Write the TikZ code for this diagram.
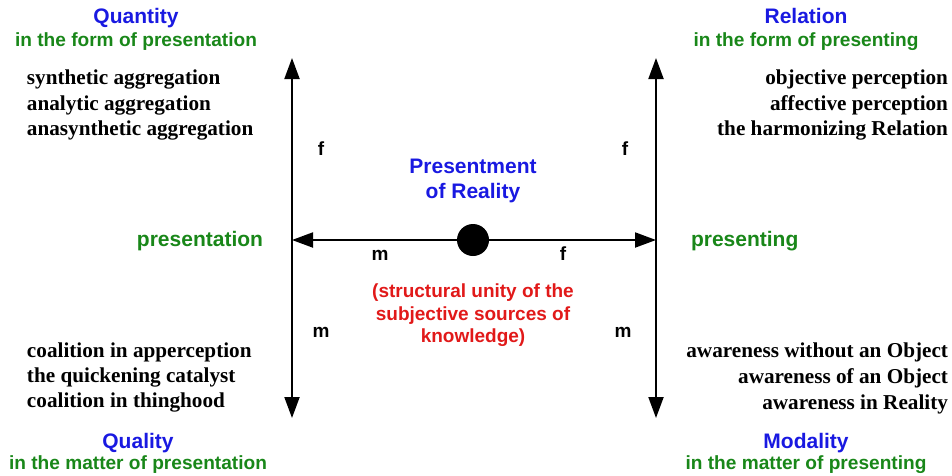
\documentclass[tikz,border=0pt]{standalone}
\usepackage{fontspec}
\setmainfont{Liberation Serif}
\setsansfont{Liberation Sans}
\usetikzlibrary{arrows.meta}
\definecolor{hblue}{RGB}{25,25,225}
\definecolor{hgreen}{RGB}{25,135,25}
\definecolor{hred}{RGB}{225,25,25}
\begin{document}
\begin{tikzpicture}[x=1pt,y=-1pt,
  every node/.style={inner sep=0pt,outer sep=0pt},
  head/.style={font=\sffamily\bfseries\fontsize{21}{23}\selectfont,text=hblue,anchor=base},
  sub/.style={font=\sffamily\bfseries\fontsize{19.1}{21}\selectfont,text=hgreen,anchor=base},
  item/.style={font=\rmfamily\bfseries\fontsize{21.2}{23}\selectfont,text=black},
  lbl/.style={font=\sffamily\bfseries\fontsize{19}{21}\selectfont,anchor=base},
  redt/.style={font=\sffamily\bfseries\fontsize{19}{21}\selectfont,text=hred,anchor=base},
  side/.style={font=\sffamily\bfseries\fontsize{21}{23}\selectfont,text=hgreen},
  arr/.style={line width=2pt,-{Triangle[length=21pt,width=15pt]}}]
\useasboundingbox (0,0) rectangle (952,475);
% axes
\coordinate (lt) at (292,58);
\coordinate (lb) at (292,418);
\coordinate (rt) at (656,58);
\coordinate (rb) at (656,418);
\coordinate (lm) at (292,240);
\coordinate (rm) at (656,240);
\draw[arr] (lm) -- (lt);
\draw[arr] (lm) -- (lb);
\draw[arr] (rm) -- (rt);
\draw[arr] (rm) -- (rb);
\node[circle,fill=black,minimum size=32pt] (dot) at (473,240) {};
\draw[arr] (dot) -- (lm);
\draw[arr] (dot) -- (rm);
% corner headings
\node[head] (qn) at (136,23) {Quantity};
\node[sub] (qns) at (136,46) {in the form of presentation};
\node[head] (rl) at (806,23) {Relation};
\node[sub] (rls) at (806,46) {in the form of presenting};
\node[head] (ql) at (138,448) {Quality};
\node[sub] (qls) at (138,469) {in the matter of presentation};
\node[head] (md) at (806,448) {Modality};
\node[sub] (mds) at (806,469) {in the matter of presenting};
% lists
\node[item,anchor=base west] (a1) at (27,84) {synthetic aggregation};
\node[item,anchor=base west] (a2) at (27,110) {analytic aggregation};
\node[item,anchor=base west] (a3) at (27,135) {anasynthetic aggregation};
\node[item,anchor=base east] (b1) at (948,84) {objective perception};
\node[item,anchor=base east] (b2) at (948,110) {affective perception};
\node[item,anchor=base east] (b3) at (948,135) {the harmonizing Relation};
\node[item,anchor=base west] (c1) at (27,357) {coalition in apperception};
\node[item,anchor=base west] (c2) at (27,382) {the quickening catalyst};
\node[item,anchor=base west] (c3) at (27,407) {coalition in thinghood};
\node[item,anchor=base east] (d1) at (948,357) {awareness without an Object};
\node[item,anchor=base east] (d2) at (948,383) {awareness of an Object};
\node[item,anchor=base east] (d3) at (948,409) {awareness in Reality};
% side labels
\node[side,anchor=base east] (pl) at (263,246) {presentation};
\node[side,anchor=base west] (pr) at (691,246) {presenting};
% f / m
\node[lbl] (f1) at (321,155) {f};
\node[lbl] (f2) at (625,155) {f};
\node[lbl] (m1) at (321,337) {m};
\node[lbl] (m2) at (623,337) {m};
\node[lbl] (m3) at (380,260) {m};
\node[lbl] (f3) at (563,260) {f};
% centre texts
\node[head] (p1) at (473,173) {Presentment};
\node[head] (p2) at (473,198) {of Reality};
\node[redt] (r1) at (473,297) {(structural unity of the};
\node[redt] (r2) at (473,320) {subjective sources of};
\node[redt] (r3) at (473,342) {knowledge)};
\end{tikzpicture}
\end{document}
